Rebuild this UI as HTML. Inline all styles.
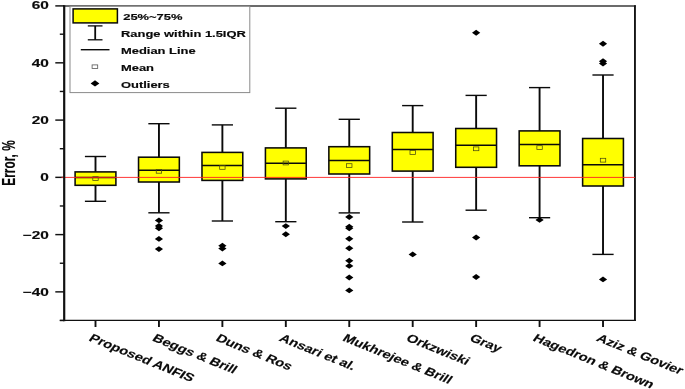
<!DOCTYPE html>
<html lang="en"><head><meta charset="utf-8"><title>Error box plot</title>
<style>html,body{margin:0;padding:0;background:#fff;}svg{display:block;will-change:transform;}</style></head>
<body>
<svg width="685" height="389" viewBox="0 0 685 389">
<rect width="685" height="389" fill="#fff"/>
<g stroke="#111" fill="none">
<line x1="59.8" y1="320.35" x2="635.9" y2="320.35" stroke-width="1.45"/>
<line x1="63.1" y1="5.95" x2="635.8" y2="5.95" stroke-width="1.5" stroke="#3a3a3a"/>
<line x1="634.95" y1="5.2" x2="634.95" y2="321.05" stroke-width="1.9" stroke="#151515"/>
<line x1="55.3" y1="5.90" x2="64" y2="5.90" stroke-width="1.45"/>
<line x1="55.3" y1="62.83" x2="64" y2="62.83" stroke-width="1.45"/>
<line x1="55.3" y1="120.09" x2="64" y2="120.09" stroke-width="1.45"/>
<line x1="55.3" y1="177.35" x2="64" y2="177.35" stroke-width="1.45"/>
<line x1="55.3" y1="234.61" x2="64" y2="234.61" stroke-width="1.45"/>
<line x1="55.3" y1="291.87" x2="64" y2="291.87" stroke-width="1.45"/>
<line x1="59.8" y1="34.20" x2="64" y2="34.20" stroke-width="1.4"/>
<line x1="59.8" y1="91.46" x2="64" y2="91.46" stroke-width="1.4"/>
<line x1="59.8" y1="148.72" x2="64" y2="148.72" stroke-width="1.4"/>
<line x1="59.8" y1="205.98" x2="64" y2="205.98" stroke-width="1.4"/>
<line x1="59.8" y1="263.24" x2="64" y2="263.24" stroke-width="1.4"/>
<line x1="59.8" y1="320.50" x2="64" y2="320.50" stroke-width="1.4"/>
<line x1="95.50" y1="320" x2="95.50" y2="327" stroke-width="1.9"/>
<line x1="158.94" y1="320" x2="158.94" y2="327" stroke-width="1.9"/>
<line x1="222.38" y1="320" x2="222.38" y2="327" stroke-width="1.9"/>
<line x1="285.82" y1="320" x2="285.82" y2="327" stroke-width="1.9"/>
<line x1="349.26" y1="320" x2="349.26" y2="327" stroke-width="1.9"/>
<line x1="412.70" y1="320" x2="412.70" y2="327" stroke-width="1.9"/>
<line x1="476.14" y1="320" x2="476.14" y2="327" stroke-width="1.9"/>
<line x1="539.58" y1="320" x2="539.58" y2="327" stroke-width="1.9"/>
<line x1="603.02" y1="320" x2="603.02" y2="327" stroke-width="1.9"/>
</g>
<g stroke="#0a0a0a" fill="none">
<line x1="95.50" y1="156.50" x2="95.50" y2="201.30" stroke-width="1.9"/>
<line x1="84.90" y1="156.50" x2="106.10" y2="156.50" stroke-width="1.4"/>
<line x1="84.90" y1="201.30" x2="106.10" y2="201.30" stroke-width="1.4"/>
<rect x="75.10" y="171.90" width="40.80" height="13.40" fill="#ffff00" stroke-width="1.55"/>
<line x1="75.10" y1="177.60" x2="115.90" y2="177.60" stroke-width="1.5"/>
<rect x="92.80" y="176.70" width="5.4" height="3.8" stroke="#4a4a10" stroke-width="0.75"/>
</g>
<g stroke="#0a0a0a" fill="none">
<line x1="158.94" y1="123.70" x2="158.94" y2="212.80" stroke-width="1.9"/>
<line x1="148.34" y1="123.70" x2="169.54" y2="123.70" stroke-width="1.4"/>
<line x1="148.34" y1="212.80" x2="169.54" y2="212.80" stroke-width="1.4"/>
<rect x="138.54" y="157.20" width="40.80" height="24.80" fill="#ffff00" stroke-width="1.55"/>
<line x1="138.54" y1="170.20" x2="179.34" y2="170.20" stroke-width="1.5"/>
<rect x="156.24" y="169.40" width="5.4" height="3.8" stroke="#4a4a10" stroke-width="0.75"/>
</g>
<polygon points="154.84,220.40 158.94,217.45 163.04,220.40 158.94,223.35" fill="#000"/>
<polygon points="154.84,225.90 158.94,222.95 163.04,225.90 158.94,228.85" fill="#000"/>
<polygon points="154.84,228.20 158.94,225.25 163.04,228.20 158.94,231.15" fill="#000"/>
<polygon points="154.84,238.90 158.94,235.95 163.04,238.90 158.94,241.85" fill="#000"/>
<polygon points="154.84,249.10 158.94,246.15 163.04,249.10 158.94,252.05" fill="#000"/>
<g stroke="#0a0a0a" fill="none">
<line x1="222.38" y1="124.90" x2="222.38" y2="221.00" stroke-width="1.9"/>
<line x1="211.78" y1="124.90" x2="232.98" y2="124.90" stroke-width="1.4"/>
<line x1="211.78" y1="221.00" x2="232.98" y2="221.00" stroke-width="1.4"/>
<rect x="201.98" y="152.40" width="40.80" height="28.00" fill="#ffff00" stroke-width="1.55"/>
<line x1="201.98" y1="165.60" x2="242.78" y2="165.60" stroke-width="1.5"/>
<rect x="219.68" y="165.50" width="5.4" height="3.8" stroke="#4a4a10" stroke-width="0.75"/>
</g>
<polygon points="218.28,245.80 222.38,242.85 226.48,245.80 222.38,248.75" fill="#000"/>
<polygon points="218.28,248.60 222.38,245.65 226.48,248.60 222.38,251.55" fill="#000"/>
<polygon points="218.28,263.40 222.38,260.45 226.48,263.40 222.38,266.35" fill="#000"/>
<g stroke="#0a0a0a" fill="none">
<line x1="285.82" y1="108.20" x2="285.82" y2="221.70" stroke-width="1.9"/>
<line x1="275.22" y1="108.20" x2="296.42" y2="108.20" stroke-width="1.4"/>
<line x1="275.22" y1="221.70" x2="296.42" y2="221.70" stroke-width="1.4"/>
<rect x="265.42" y="147.90" width="40.80" height="31.00" fill="#ffff00" stroke-width="1.55"/>
<line x1="265.42" y1="163.30" x2="306.22" y2="163.30" stroke-width="1.5"/>
<rect x="283.12" y="161.10" width="5.4" height="3.8" stroke="#4a4a10" stroke-width="0.75"/>
</g>
<polygon points="281.72,226.10 285.82,223.15 289.92,226.10 285.82,229.05" fill="#000"/>
<polygon points="281.72,234.20 285.82,231.25 289.92,234.20 285.82,237.15" fill="#000"/>
<g stroke="#0a0a0a" fill="none">
<line x1="349.26" y1="119.30" x2="349.26" y2="212.90" stroke-width="1.9"/>
<line x1="338.66" y1="119.30" x2="359.86" y2="119.30" stroke-width="1.4"/>
<line x1="338.66" y1="212.90" x2="359.86" y2="212.90" stroke-width="1.4"/>
<rect x="328.86" y="146.70" width="40.80" height="27.30" fill="#ffff00" stroke-width="1.55"/>
<line x1="328.86" y1="160.60" x2="369.66" y2="160.60" stroke-width="1.5"/>
<rect x="346.56" y="163.70" width="5.4" height="3.8" stroke="#4a4a10" stroke-width="0.75"/>
</g>
<polygon points="345.16,217.00 349.26,214.05 353.36,217.00 349.26,219.95" fill="#000"/>
<polygon points="345.16,226.80 349.26,223.85 353.36,226.80 349.26,229.75" fill="#000"/>
<polygon points="345.16,228.30 349.26,225.35 353.36,228.30 349.26,231.25" fill="#000"/>
<polygon points="345.16,238.80 349.26,235.85 353.36,238.80 349.26,241.75" fill="#000"/>
<polygon points="345.16,248.30 349.26,245.35 353.36,248.30 349.26,251.25" fill="#000"/>
<polygon points="345.16,260.80 349.26,257.85 353.36,260.80 349.26,263.75" fill="#000"/>
<polygon points="345.16,265.90 349.26,262.95 353.36,265.90 349.26,268.85" fill="#000"/>
<polygon points="345.16,277.50 349.26,274.55 353.36,277.50 349.26,280.45" fill="#000"/>
<polygon points="345.16,290.40 349.26,287.45 353.36,290.40 349.26,293.35" fill="#000"/>
<g stroke="#0a0a0a" fill="none">
<line x1="412.70" y1="105.60" x2="412.70" y2="222.00" stroke-width="1.9"/>
<line x1="402.10" y1="105.60" x2="423.30" y2="105.60" stroke-width="1.4"/>
<line x1="402.10" y1="222.00" x2="423.30" y2="222.00" stroke-width="1.4"/>
<rect x="392.30" y="132.50" width="40.80" height="38.60" fill="#ffff00" stroke-width="1.55"/>
<line x1="392.30" y1="149.40" x2="433.10" y2="149.40" stroke-width="1.5"/>
<rect x="410.00" y="150.60" width="5.4" height="3.8" stroke="#4a4a10" stroke-width="0.75"/>
</g>
<polygon points="408.60,254.40 412.70,251.45 416.80,254.40 412.70,257.35" fill="#000"/>
<g stroke="#0a0a0a" fill="none">
<line x1="476.14" y1="95.40" x2="476.14" y2="210.20" stroke-width="1.9"/>
<line x1="465.54" y1="95.40" x2="486.74" y2="95.40" stroke-width="1.4"/>
<line x1="465.54" y1="210.20" x2="486.74" y2="210.20" stroke-width="1.4"/>
<rect x="455.74" y="128.50" width="40.80" height="38.80" fill="#ffff00" stroke-width="1.55"/>
<line x1="455.74" y1="145.20" x2="496.54" y2="145.20" stroke-width="1.5"/>
<rect x="473.44" y="146.90" width="5.4" height="3.8" stroke="#4a4a10" stroke-width="0.75"/>
</g>
<polygon points="472.04,32.70 476.14,29.75 480.24,32.70 476.14,35.65" fill="#000"/>
<polygon points="472.04,237.50 476.14,234.55 480.24,237.50 476.14,240.45" fill="#000"/>
<polygon points="472.04,277.00 476.14,274.05 480.24,277.00 476.14,279.95" fill="#000"/>
<g stroke="#0a0a0a" fill="none">
<line x1="539.58" y1="87.60" x2="539.58" y2="217.70" stroke-width="1.9"/>
<line x1="528.98" y1="87.60" x2="550.18" y2="87.60" stroke-width="1.4"/>
<line x1="528.98" y1="217.70" x2="550.18" y2="217.70" stroke-width="1.4"/>
<rect x="519.18" y="130.90" width="40.80" height="34.90" fill="#ffff00" stroke-width="1.55"/>
<line x1="519.18" y1="144.50" x2="559.98" y2="144.50" stroke-width="1.5"/>
<rect x="536.88" y="145.70" width="5.4" height="3.8" stroke="#4a4a10" stroke-width="0.75"/>
</g>
<polygon points="535.48,219.90 539.58,216.95 543.68,219.90 539.58,222.85" fill="#000"/>
<g stroke="#0a0a0a" fill="none">
<line x1="603.02" y1="75.00" x2="603.02" y2="254.40" stroke-width="1.9"/>
<line x1="592.42" y1="75.00" x2="613.62" y2="75.00" stroke-width="1.4"/>
<line x1="592.42" y1="254.40" x2="613.62" y2="254.40" stroke-width="1.4"/>
<rect x="582.62" y="138.50" width="40.80" height="47.50" fill="#ffff00" stroke-width="1.55"/>
<line x1="582.62" y1="164.70" x2="623.42" y2="164.70" stroke-width="1.5"/>
<rect x="600.32" y="158.30" width="5.4" height="3.8" stroke="#4a4a10" stroke-width="0.75"/>
</g>
<polygon points="598.92,43.70 603.02,40.75 607.12,43.70 603.02,46.65" fill="#000"/>
<polygon points="598.92,61.20 603.02,58.25 607.12,61.20 603.02,64.15" fill="#000"/>
<polygon points="598.92,63.50 603.02,60.55 607.12,63.50 603.02,66.45" fill="#000"/>
<polygon points="598.92,279.40 603.02,276.45 607.12,279.40 603.02,282.35" fill="#000"/>
<line x1="61.5" y1="177.4" x2="635.0" y2="177.4" stroke="#ff2020" stroke-width="0.9"/>
<line x1="64.2" y1="5.3" x2="64.2" y2="321.2" stroke="#111" stroke-width="2.2"/>
<rect x="70" y="6.3" width="179.8" height="86.3" fill="#fff" stroke="#8a8a8a" stroke-width="1"/>
<rect x="73.1" y="8.9" width="44.3" height="14.0" fill="#ffff00" stroke="#0a0a0a" stroke-width="1.5"/>
<g stroke="#0a0a0a" fill="none">
<line x1="95.2" y1="25.9" x2="95.2" y2="39.8" stroke-width="1.8"/>
<line x1="87.8" y1="25.9" x2="102.5" y2="25.9" stroke-width="1.3"/>
<line x1="87.8" y1="39.8" x2="102.5" y2="39.8" stroke-width="1.3"/>
<line x1="80.8" y1="49.7" x2="109.5" y2="49.7" stroke-width="1.4"/>
<rect x="92.1" y="64.9" width="5.6" height="3.5" stroke="#555" stroke-width="0.8" fill="#fff"/>
</g>
<polygon points="90.60,83.40 95.00,80.30 99.40,83.40 95.00,86.50" fill="#000"/>
<text transform="translate(123.20,20.20) scale(1.34,1)" font-family='"Liberation Sans", sans-serif' font-weight="700" font-size="9.65" text-anchor="start" fill="#0a0a0a" stroke="#0a0a0a" stroke-width="0.16">25%~75%</text>
<text transform="translate(121.00,37.10) scale(1.34,1)" font-family='"Liberation Sans", sans-serif' font-weight="700" font-size="9.65" text-anchor="start" fill="#0a0a0a" stroke="#0a0a0a" stroke-width="0.16">Range within 1.5IQR</text>
<text transform="translate(121.00,54.00) scale(1.34,1)" font-family='"Liberation Sans", sans-serif' font-weight="700" font-size="9.65" text-anchor="start" fill="#0a0a0a" stroke="#0a0a0a" stroke-width="0.16">Median Line</text>
<text transform="translate(121.00,71.00) scale(1.34,1)" font-family='"Liberation Sans", sans-serif' font-weight="700" font-size="9.65" text-anchor="start" fill="#0a0a0a" stroke="#0a0a0a" stroke-width="0.16">Mean</text>
<text transform="translate(121.00,87.60) scale(1.34,1)" font-family='"Liberation Sans", sans-serif' font-weight="700" font-size="9.65" text-anchor="start" fill="#0a0a0a" stroke="#0a0a0a" stroke-width="0.16">Outliers</text>
<text transform="translate(48.80,8.90) scale(1.4,1)" font-family='"Liberation Sans", sans-serif' font-weight="700" font-size="11" text-anchor="end" fill="#0a0a0a" stroke="#0a0a0a" stroke-width="0.16">60</text>
<text transform="translate(48.80,66.83) scale(1.4,1)" font-family='"Liberation Sans", sans-serif' font-weight="700" font-size="11" text-anchor="end" fill="#0a0a0a" stroke="#0a0a0a" stroke-width="0.16">40</text>
<text transform="translate(48.80,124.09) scale(1.4,1)" font-family='"Liberation Sans", sans-serif' font-weight="700" font-size="11" text-anchor="end" fill="#0a0a0a" stroke="#0a0a0a" stroke-width="0.16">20</text>
<text transform="translate(48.80,181.35) scale(1.4,1)" font-family='"Liberation Sans", sans-serif' font-weight="700" font-size="11" text-anchor="end" fill="#0a0a0a" stroke="#0a0a0a" stroke-width="0.16">0</text>
<text transform="translate(48.80,238.61) scale(1.4,1)" font-family='"Liberation Sans", sans-serif' font-weight="700" font-size="11" text-anchor="end" fill="#0a0a0a" stroke="#0a0a0a" stroke-width="0.16">−20</text>
<text transform="translate(48.80,295.87) scale(1.4,1)" font-family='"Liberation Sans", sans-serif' font-weight="700" font-size="11" text-anchor="end" fill="#0a0a0a" stroke="#0a0a0a" stroke-width="0.16">−40</text>
<text transform="translate(14.70,163.00) scale(1.48,1) rotate(-90)" font-family='"Liberation Sans", sans-serif' font-weight="700" font-size="11.9" text-anchor="middle" fill="#0a0a0a" stroke="#0a0a0a" stroke-width="0.1">Error, %</text>
<text transform="translate(88.00,340.30) scale(1.34,1) rotate(28.6)" font-family='"Liberation Sans", sans-serif' font-weight="700" font-size="11.15" text-anchor="start" fill="#0a0a0a" stroke="#0a0a0a" stroke-width="0.16">Proposed ANFIS</text>
<text transform="translate(151.44,340.30) scale(1.34,1) rotate(28.6)" font-family='"Liberation Sans", sans-serif' font-weight="700" font-size="11.15" text-anchor="start" fill="#0a0a0a" stroke="#0a0a0a" stroke-width="0.16">Beggs &amp; Brill</text>
<text transform="translate(214.88,340.30) scale(1.34,1) rotate(28.6)" font-family='"Liberation Sans", sans-serif' font-weight="700" font-size="11.15" text-anchor="start" fill="#0a0a0a" stroke="#0a0a0a" stroke-width="0.16">Duns &amp; Ros</text>
<text transform="translate(278.32,340.30) scale(1.34,1) rotate(28.6)" font-family='"Liberation Sans", sans-serif' font-weight="700" font-size="11.15" text-anchor="start" fill="#0a0a0a" stroke="#0a0a0a" stroke-width="0.16">Ansari et al.</text>
<text transform="translate(341.76,340.30) scale(1.34,1) rotate(28.6)" font-family='"Liberation Sans", sans-serif' font-weight="700" font-size="11.15" text-anchor="start" fill="#0a0a0a" stroke="#0a0a0a" stroke-width="0.16">Mukhrejee &amp; Brill</text>
<text transform="translate(405.20,340.30) scale(1.34,1) rotate(28.6)" font-family='"Liberation Sans", sans-serif' font-weight="700" font-size="11.15" text-anchor="start" fill="#0a0a0a" stroke="#0a0a0a" stroke-width="0.16">Orkzwiski</text>
<text transform="translate(468.64,340.30) scale(1.34,1) rotate(28.6)" font-family='"Liberation Sans", sans-serif' font-weight="700" font-size="11.15" text-anchor="start" fill="#0a0a0a" stroke="#0a0a0a" stroke-width="0.16">Gray</text>
<text transform="translate(532.08,340.30) scale(1.34,1) rotate(28.6)" font-family='"Liberation Sans", sans-serif' font-weight="700" font-size="11.15" text-anchor="start" fill="#0a0a0a" stroke="#0a0a0a" stroke-width="0.16">Hagedron &amp; Brown</text>
<text transform="translate(595.52,340.30) scale(1.34,1) rotate(28.6)" font-family='"Liberation Sans", sans-serif' font-weight="700" font-size="11.15" text-anchor="start" fill="#0a0a0a" stroke="#0a0a0a" stroke-width="0.16">Aziz &amp; Govier</text>
</svg>
</body></html>
